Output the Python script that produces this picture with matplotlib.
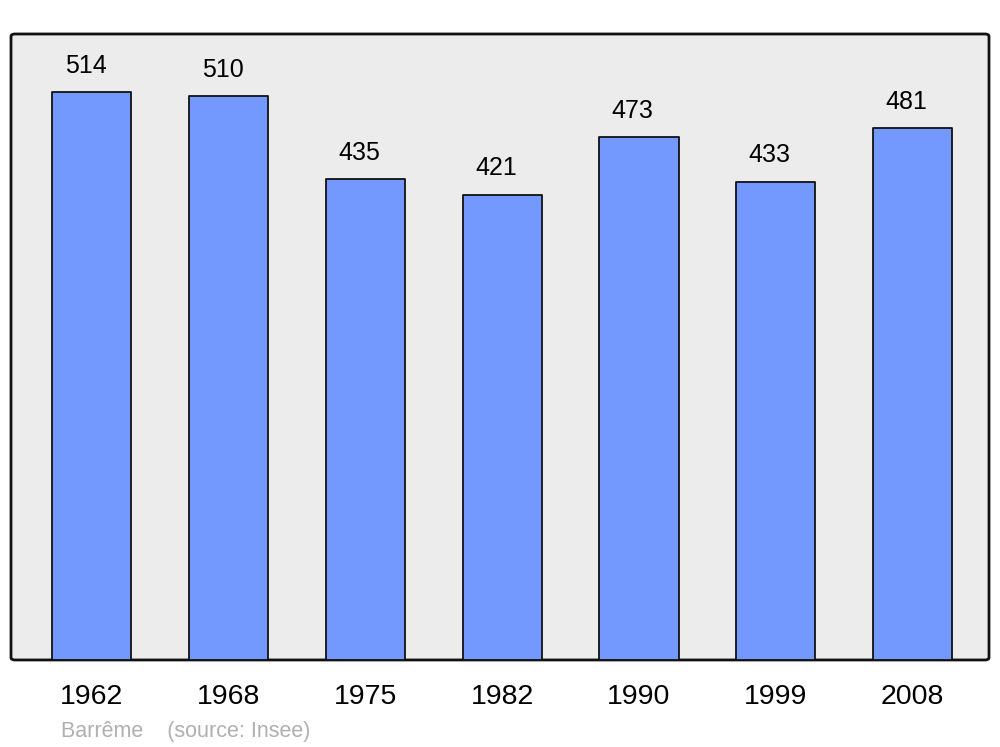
import matplotlib.pyplot as plt
from matplotlib.patches import FancyBboxPatch

years = ['1962', '1968', '1975', '1982', '1990', '1999', '2008']
population = [514, 510, 435, 421, 473, 433, 481]

plt.rcParams['font.family'] = ['Liberation Sans', 'DejaVu Sans']

fig = plt.figure(figsize=(10, 7.47), dpi=100)
ax = fig.add_axes([0.011, 0.1165, 0.978, 0.838])
ax.set_facecolor('none')

# rounded grey frame behind the bars
frame = FancyBboxPatch((0, 0), 1, 1, boxstyle='round,pad=0,rounding_size=0.004',
                       transform=ax.transAxes, facecolor='#ececec', edgecolor='#111111',
                       linewidth=2, zorder=0, clip_on=False)
ax.add_patch(frame)

pos = list(range(len(years)))
bars = ax.bar(pos, population, width=0.578, color='#7399ff', edgecolor='#111111',
              linewidth=1.3, zorder=2)
for b in bars:
    b.set_joinstyle('round')

for x, v in zip(pos, population):
    ax.annotate(str(v), (x, v), xytext=(-4.5, 14), textcoords='offset points',
                ha='center', va='baseline', fontsize=18, color='black')

ax.set_xlim(-0.592, 6.559)
ax.set_ylim(0, 566.5)
for s in ax.spines.values():
    s.set_visible(False)
ax.set_yticks([])
ax.set_xticks(pos)
ax.set_xticklabels(years, fontsize=20.5)
ax.tick_params(axis='x', length=0, pad=17)

fig.text(0.061, 0.0134, 'Barrême    (source: Insee)', fontsize=15.5, color='#b0b0b0',
         ha='left', va='baseline')

fig.savefig('out.png', dpi=100)
